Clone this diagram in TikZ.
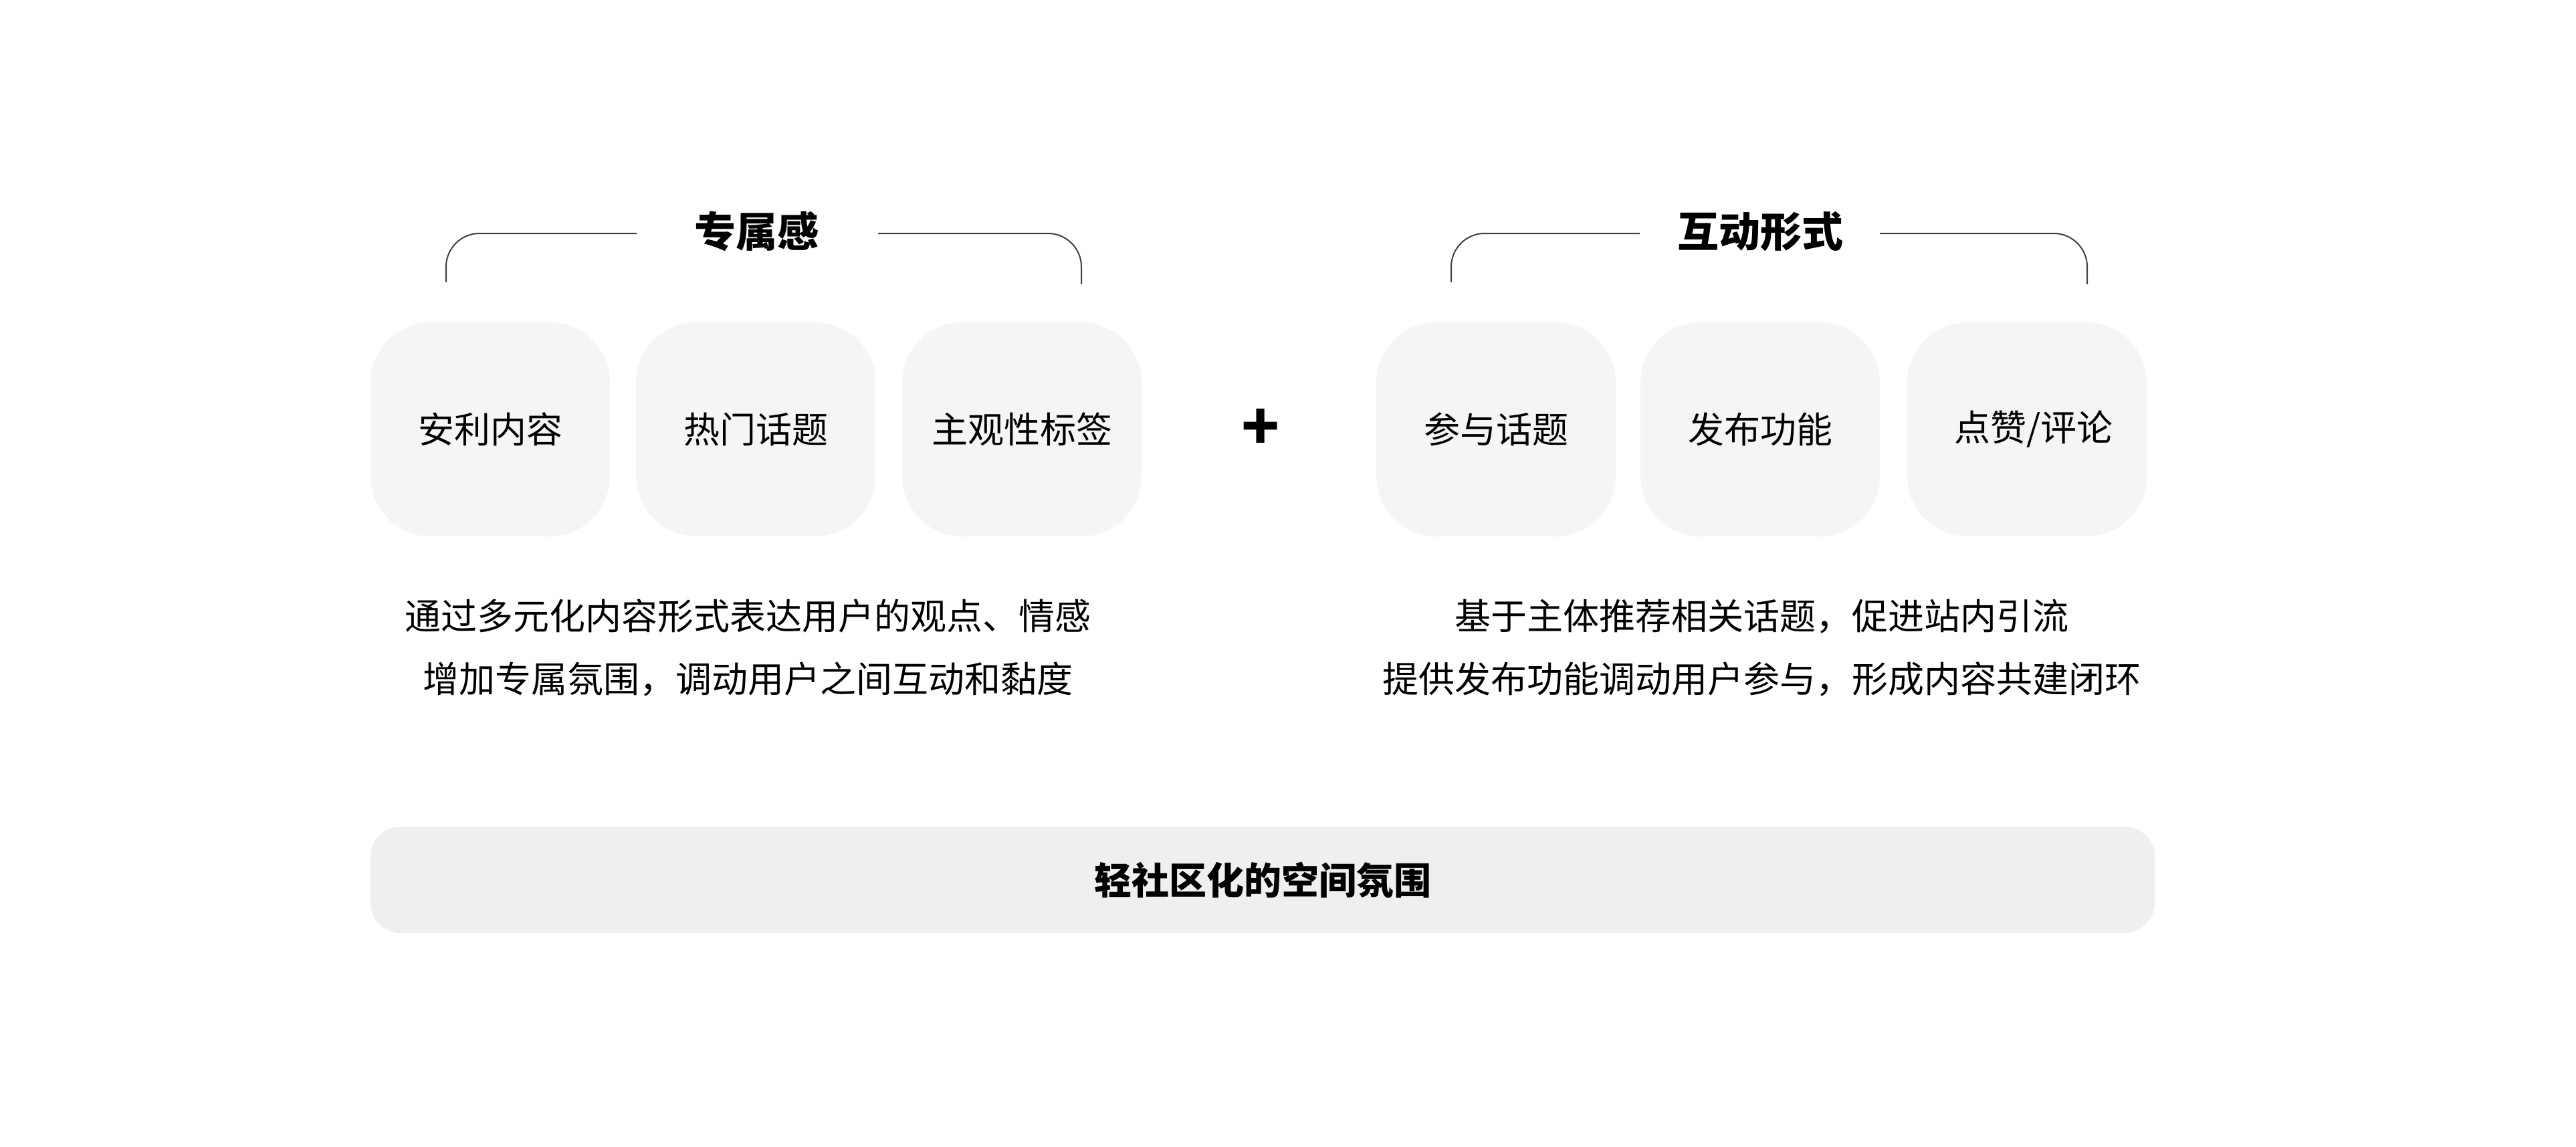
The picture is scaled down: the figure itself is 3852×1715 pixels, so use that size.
\documentclass[tikz,border=0pt]{standalone}
\usepackage{fontspec}
\setmainfont{Noto Sans CJK SC}
\definecolor{cardgray}{HTML}{F5F5F5}
\definecolor{bargray}{HTML}{EFEFEF}
\definecolor{linegray}{HTML}{404040}
\definecolor{ink}{HTML}{000000}
\begin{document}
\begin{tikzpicture}[x=1pt,y=-1pt,
  card/.style={fill=cardgray, draw=none, rounded corners=90pt, minimum width=358pt, minimum height=320pt, inner sep=0pt, text=ink, font=\fontsize{54}{60}\selectfont},
  grouptitle/.style={inner sep=0pt, text=ink, font=\fontsize{62}{70}\selectfont\bfseries},
  desc/.style={inner sep=0pt, align=center, text=ink, font=\fontsize{54}{94}\selectfont},
  bracketline/.style={draw=linegray, line width=2pt, rounded corners=50pt},
  bar/.style={fill=bargray, draw=none, rounded corners=45pt, minimum width=2668pt, minimum height=159pt, inner sep=0pt, text=ink, font=\fontsize{56}{60}\selectfont\bfseries},
  plusmark/.style={inner sep=0pt, text=ink, font=\fontsize{94}{100}\selectfont\bfseries}]
\useasboundingbox[fill=white] (0,0) rectangle (3852,1715);

% left group
\node[grouptitle] (t1) at (1131,346) {专属感};
\coordinate (b1a) at (667,422);
\coordinate (b1b) at (952,349);
\coordinate (b1c) at (1313,349);
\coordinate (b1d) at (1617,425);
\draw[bracketline] (b1a) |- (b1b);
\draw[bracketline] (b1c) -| (b1d);

\node[card] (c1) at (733,642) {安利内容};
\node[card] (c2) at (1130,642) {热门话题};
\node[card] (c3) at (1528,642) {主观性标签};

\node[plusmark] (plus) at (1885,642) {+};

% right group
\node[grouptitle] (t2) at (2632,346) {互动形式};
\coordinate (b2a) at (2170,422);
\coordinate (b2b) at (2452,349);
\coordinate (b2c) at (2811,349);
\coordinate (b2d) at (3121,425);
\draw[bracketline] (b2a) |- (b2b);
\draw[bracketline] (b2c) -| (b2d);

\node[card] (c4) at (2237,642) {参与话题};
\node[card] (c5) at (2632,642) {发布功能};
\node[card] (c6) at (3031,642) {\hspace*{20pt}点赞/评论};

% descriptions
\node[desc] (d1) at (1118,969) {通过多元化内容形式表达用户的观点、情感\\增加专属氛围，调动用户之间互动和黏度};
\node[desc] (d2) at (2634,969) {基于主体推荐相关话题，促进站内引流\\提供发布功能调动用户参与，形成内容共建闭环};

% bottom bar
\node[bar] (base) at (1888,1315.5) {轻社区化的空间氛围};
\end{tikzpicture}
\end{document}
